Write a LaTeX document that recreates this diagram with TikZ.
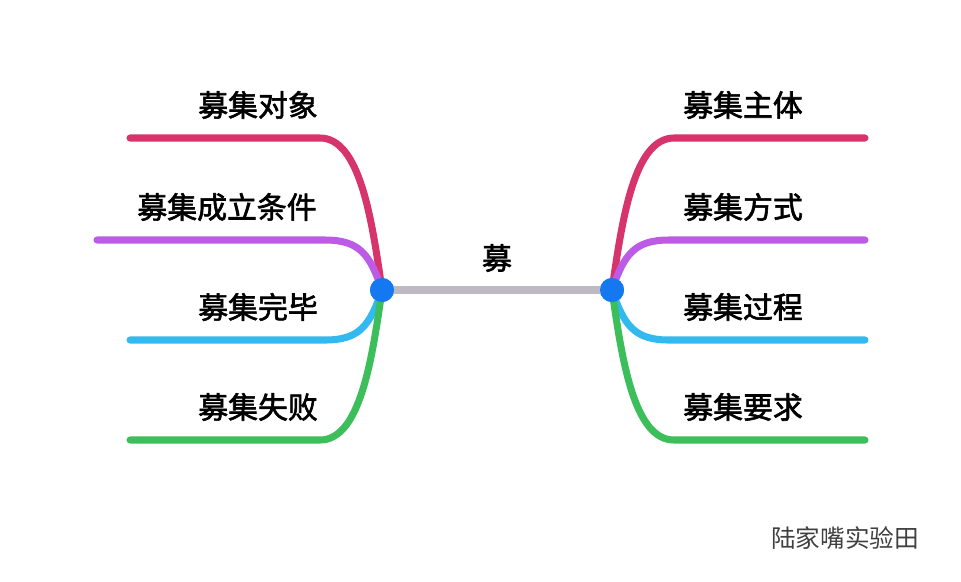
\documentclass[tikz,border=0pt]{standalone}
\usepackage{fontspec}
\setmainfont{Noto Sans CJK SC}[AutoFakeBold=2]
\definecolor{cpink}{RGB}{214,52,106}
\definecolor{cpurple}{RGB}{188,92,230}
\definecolor{cblue}{RGB}{50,185,240}
\definecolor{cgreen}{RGB}{60,190,90}
\definecolor{cgray}{RGB}{190,186,196}
\definecolor{cdot}{RGB}{20,120,240}
\tikzset{branch/.style={line width=2pt,line cap=round},
  lbl/.style={font=\bfseries\fontsize{8.5}{10}\selectfont},
  hub/.style={circle,fill=cdot,inner sep=0pt,minimum size=0.24cm}}
\begin{document}
\begin{tikzpicture}[x=0.01cm,y=-0.01cm]
\useasboundingbox (0,0) rectangle (961,581);
\node[hub] (L) at (382,290) {};
\node[hub] (R) at (612,290) {};
% left ends
\coordinate (l1) at (130,138);
\coordinate (l2) at (97,240);
\coordinate (l3) at (130,340);
\coordinate (l4) at (130,440);
% right ends
\coordinate (r1) at (865,138);
\coordinate (r2) at (865,240);
\coordinate (r3) at (865,340);
\coordinate (r4) at (865,440);
\begin{scope}[on background layer/.style={}]
\draw[branch,cgray] (L) -- (R);
\draw[branch,cpink] (l1) -- (320,138) .. controls (360,138) and (372,220) .. (L.center);
\draw[branch,cpurple] (l2) -- (325,240) .. controls (360,240) and (370,255) .. (L.center);
\draw[branch,cblue] (l3) -- (325,340) .. controls (360,340) and (370,325) .. (L.center);
\draw[branch,cgreen] (l4) -- (320,440) .. controls (360,440) and (372,360) .. (L.center);
\draw[branch,cpink] (r1) -- (674,138) .. controls (634,138) and (622,220) .. (R.center);
\draw[branch,cpurple] (r2) -- (669,240) .. controls (634,240) and (624,255) .. (R.center);
\draw[branch,cblue] (r3) -- (669,340) .. controls (634,340) and (624,325) .. (R.center);
\draw[branch,cgreen] (r4) -- (674,440) .. controls (634,440) and (622,360) .. (R.center);
\end{scope}
\node[hub] at (L) {};
\node[hub] at (R) {};
\node[lbl] (top) at (497,258) {募};
\node[lbl] (t1) at (258,105) {募集对象};
\node[lbl] (t2) at (227,207) {募集成立条件};
\node[lbl] (t3) at (258,307) {募集完毕};
\node[lbl] (t4) at (258,407) {募集失败};
\node[lbl] (s1) at (743,105) {募集主体};
\node[lbl] (s2) at (743,207) {募集方式};
\node[lbl] (s3) at (743,307) {募集过程};
\node[lbl] (s4) at (743,407) {募集要求};
\node[font=\fontsize{7}{8}\selectfont,text=black!75] (wm) at (845,538) {陆家嘴实验田};
\end{tikzpicture}
\end{document}
